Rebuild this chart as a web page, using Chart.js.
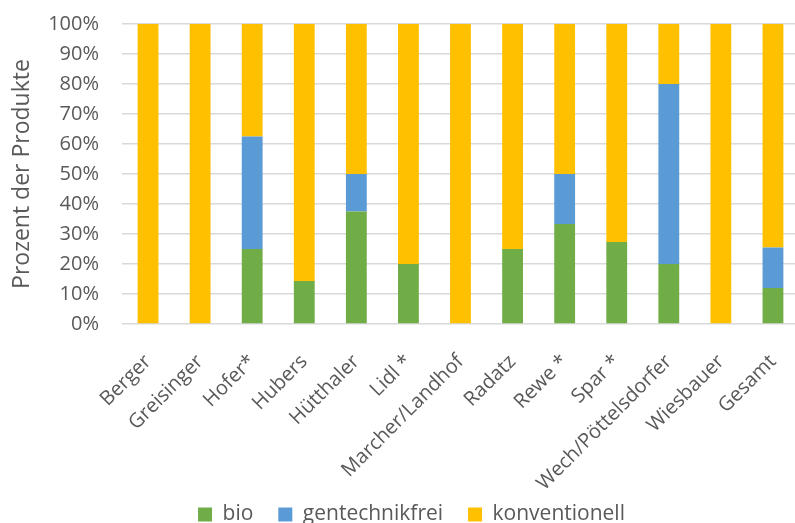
<!DOCTYPE html>
<html>
<head>
<meta charset="utf-8">
<script src="https://cdn.jsdelivr.net/npm/chart.js@4/dist/chart.umd.min.js"></script>
<style>
  html, body { margin: 0; padding: 0; background: #fff; overflow: hidden; }
  #wrap { width: 799px; height: 550px; }
</style>
</head>
<body>
<div id="wrap"><canvas id="c" width="799" height="550"></canvas></div>
<script>
const categories = ['Berger','Greisinger','Hofer*','Hubers','Hütthaler','Lidl *','Marcher/Landhof','Radatz','Rewe *','Spar *','Wech/Pöttelsdorfer','Wiesbauer','Gesamt'];
const bio            = [0, 0, 25, 14.3, 37.5, 20, 0, 25, 33.3, 27.3, 20, 0, 12];
const gentechnikfrei = [0, 0, 37.5, 0, 12.5, 0, 0, 0, 16.7, 0, 60, 0, 13.5];
const konventionell  = [100, 100, 37.5, 85.7, 50, 80, 100, 75, 50, 72.7, 20, 100, 74.5];
const yTicks = [0,10,20,30,40,50,60,70,80,90,100];
const seriesNames = ['bio','gentechnikfrei','konventionell'];

const FONT = "'Open Sans', 'Noto Sans', sans-serif";
const TXT = '#595959';

const legendShift = {
  id: 'legendShift',
  afterLayout(chart) {
    const l = chart.legend;
    if (l) { l.left += 12; l.right += 12; l.top -= 15; l.bottom -= 15; }
  }
};

new Chart(document.getElementById('c'), {
  type: 'bar',
  data: {
    labels: categories,
    datasets: [
      { label: seriesNames[0], data: bio, backgroundColor: '#70AD47' },
      { label: seriesNames[1], data: gentechnikfrei, backgroundColor: '#5B9BD5' },
      { label: seriesNames[2], data: konventionell, backgroundColor: '#FFC000' }
    ]
  },
  options: {
    responsive: false,
    animation: false,
    events: [],
    layout: { padding: { top: 24, left: 0, right: 0, bottom: 0 } },
    datasets: { bar: { categoryPercentage: 1, barPercentage: 0.4 } },
    scales: {
      x: {
        stacked: true,
        grid: { display: false, drawTicks: true, tickLength: 26 },
        border: { display: false },
        ticks: {
          autoSkip: false,
          minRotation: 45, maxRotation: 45,
          padding: 0,
          color: TXT,
          font: { family: FONT, size: 20 }
        },
        afterFit(scale) { scale.height = 170; }
      },
      y: {
        stacked: true,
        min: 0, max: 100,
        afterBuildTicks(scale) { scale.ticks = yTicks.map(v => ({ value: v })); },
        grid: { color: '#d9d9d9', lineWidth: 1.5, drawTicks: true, tickLength: 23, tickColor: 'rgba(0,0,0,0)' },
        border: { display: false },
        ticks: {
          padding: 0,
          color: TXT,
          font: { family: FONT, size: 20 },
          callback: v => v + '%'
        },
        title: {
          display: true,
          text: 'Prozent der Produkte',
          color: TXT,
          font: { family: FONT, size: 23, weight: 'normal' },
          padding: { top: 9, bottom: 0 }
        },
        afterFit(scale) { scale.width = 122; }
      }
    },
    plugins: {
      tooltip: { enabled: false },
      legend: {
        position: 'bottom',
        labels: {
          boxWidth: 14, boxHeight: 14,
          padding: 25,
          color: TXT,
          font: { family: FONT, size: 21 }
        }
      }
    }
  },
  plugins: [legendShift]
});
</script>
</body>
</html>
